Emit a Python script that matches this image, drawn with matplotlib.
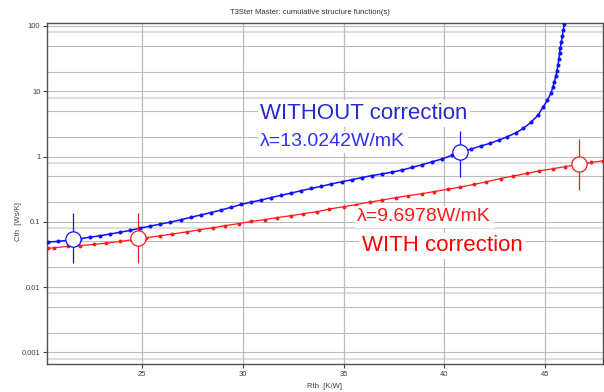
import matplotlib
matplotlib.use("Agg")
import matplotlib.pyplot as plt
from matplotlib.ticker import FixedLocator, NullFormatter

plt.rcParams["font.family"] = ["Liberation Sans", "DejaVu Sans"]

# WITHOUT correction (blue)
rth_blue = [20.3, 20.8, 21.3, 21.9, 22.4, 22.9, 23.4, 23.9, 24.4, 24.9,
            25.4, 25.9, 26.4, 26.9, 27.4, 27.9, 28.4, 28.9, 29.4, 29.9,
            30.4, 30.9, 31.4, 31.9, 32.4, 32.9, 33.4, 33.9, 34.4, 34.9,
            35.4, 35.9, 36.4, 36.9, 37.4, 37.9, 38.4, 38.9, 39.4, 39.9,
            40.4, 40.85, 41.35, 41.82, 42.26, 42.73, 43.14, 43.56, 43.94, 44.3,
            44.67, 44.92, 45.13, 45.3, 45.4, 45.47, 45.55, 45.6, 45.65, 45.7,
            45.73, 45.77, 45.82, 45.87, 45.92, 45.97, 46.0]
cth_blue = [0.049, 0.050, 0.052, 0.055, 0.058, 0.061, 0.065, 0.069, 0.074, 0.080,
            0.086, 0.092, 0.099, 0.107, 0.117, 0.127, 0.138, 0.151, 0.166, 0.184,
            0.20, 0.215, 0.235, 0.255, 0.275, 0.30, 0.325, 0.35, 0.38, 0.41,
            0.44, 0.475, 0.51, 0.54, 0.575, 0.62, 0.68, 0.75, 0.83, 0.92,
            1.05, 1.18, 1.30, 1.45, 1.59, 1.79, 2.01, 2.31, 2.70, 3.33,
            4.32, 5.78, 7.33, 9.3, 11.6, 13.8, 17.1, 20.4, 25.2, 31.2,
            38.5, 46.0, 57.0, 70.0, 87.0, 107.0, 130.0]

# WITH correction (red)
rth_red = [20.3, 20.6, 21.3, 21.9, 22.6, 23.2, 23.9, 24.5, 25.2, 25.9,
           26.5, 27.2, 27.8, 28.5, 29.1, 29.8, 30.4, 31.1, 31.7, 32.4,
           33.0, 33.7, 34.3, 35.0, 35.6, 36.3, 36.9, 37.6, 38.2, 38.9,
           39.5, 40.2, 40.8, 41.5, 42.1, 42.8, 43.4, 44.1, 44.7, 45.4,
           46.0, 46.7, 47.3, 47.9]
cth_red = [0.039, 0.040, 0.042, 0.043, 0.045, 0.047, 0.050, 0.053, 0.057, 0.061,
           0.065, 0.070, 0.075, 0.081, 0.087, 0.094, 0.101, 0.108, 0.116, 0.124,
           0.133, 0.143, 0.157, 0.170, 0.183, 0.200, 0.215, 0.235, 0.250, 0.270,
           0.29, 0.315, 0.34, 0.375, 0.41, 0.46, 0.50, 0.55, 0.60, 0.65,
           0.70, 0.76, 0.81, 0.86]

# fitted points with their ranges
fit_blue_x = [21.57, 40.8]
fit_blue_y = [0.054, 1.18]
fit_blue_lo = [0.023, 0.48]
fit_blue_hi = [0.135, 2.45]

fit_red_x = [24.8, 46.7]
fit_red_y = [0.056, 0.76]
fit_red_lo = [0.023, 0.305]
fit_red_hi = [0.135, 1.85]

x_ticks = [25, 30, 35, 40, 45]
y_ticks = [0.001, 0.01, 0.1, 1, 10, 100]
y_tick_labels = ["0.001", "0.01", "0.1", "1", "10", "100"]

blue = "#1010ff"
red = "#ff1a1a"

fig = plt.figure(figsize=(6.04, 3.92), dpi=100)
ax = fig.add_axes([0.0783, 0.0707, 0.9197, 0.8699])

ax.set_yscale("log")
ax.set_xlim(20.28, 47.88)
ax.set_ylim(0.000655, 110)

# grid: decades and 2/5 darker, 8 lighter
for dec in [0.001, 0.01, 0.1, 1, 10]:
    for m in [1, 2, 5]:
        ax.axhline(dec * m, color="#bcbcbc", lw=0.8, zorder=0)
    ax.axhline(dec * 8, color="#dedede", lw=1.5, zorder=0)
ax.axhline(100, color="#bcbcbc", lw=0.8, zorder=0)
ax.axhline(0.0008, color="#dedede", lw=1.5, zorder=0)
for xv in x_ticks:
    ax.axvline(xv, color="#bcbcbc", lw=0.9, zorder=0)

ax.plot(rth_blue, cth_blue, color=blue, lw=1.1, marker="o", ms=1.9, zorder=3)
ax.plot(rth_red, cth_red, color=red, lw=0.9, marker="o", ms=1.8, zorder=3)

for xs, ys, lo, hi, c in [(fit_blue_x, fit_blue_y, fit_blue_lo, fit_blue_hi, blue),
                          (fit_red_x, fit_red_y, fit_red_lo, fit_red_hi, red)]:
    ax.vlines(xs, lo, hi, color=c, lw=0.9, zorder=4)
    ax.plot(xs, ys, linestyle="none", marker="o", ms=11, mfc="white",
            mec=c, mew=0.9, zorder=5)

box = dict(facecolor="white", edgecolor="none", pad=2)
ax.text(30.86, 4.57, "WITHOUT correction", color="#2828d0", fontsize=16,
        ha="left", va="center", bbox=box, zorder=6)
ax.text(30.86, 1.67, "λ=13.0242W/mK", color="#3030ff", fontsize=14,
        ha="left", va="center", bbox=box, zorder=6)
ax.text(35.68, 0.119, "λ=9.6978W/mK", color=red, fontsize=14,
        ha="left", va="center", bbox=box, zorder=6)
ax.text(35.92, 0.0428, "WITH correction", color="#ff0000", fontsize=16,
        ha="left", va="center", bbox=box, zorder=6)

ax.xaxis.set_major_locator(FixedLocator(x_ticks))
ax.yaxis.set_major_locator(FixedLocator(y_ticks))
ax.set_yticklabels(y_tick_labels)
ax.yaxis.set_minor_formatter(NullFormatter())
ax.tick_params(axis="y", which="minor", length=0)
ax.tick_params(axis="both", which="major", direction="out", length=3,
               width=0.8, labelsize=5.5, colors="#404040", pad=2)
for s in ax.spines.values():
    s.set_color("#505050")
    s.set_linewidth(1.0)

fig.text(0.513, 0.967, "T3Ster Master: cumulative structure function(s)",
         fontsize=5.5, color="#303030", ha="center", va="center")
fig.text(0.538, 0.015, "Rth  [K/W]", fontsize=5.5, color="#404040",
         ha="center", va="center")
fig.text(0.03, 0.435, "Cth  [Ws/K]", fontsize=5.5, color="#404040",
         ha="center", va="center", rotation=90)

fig.savefig("out.png", dpi=100)
